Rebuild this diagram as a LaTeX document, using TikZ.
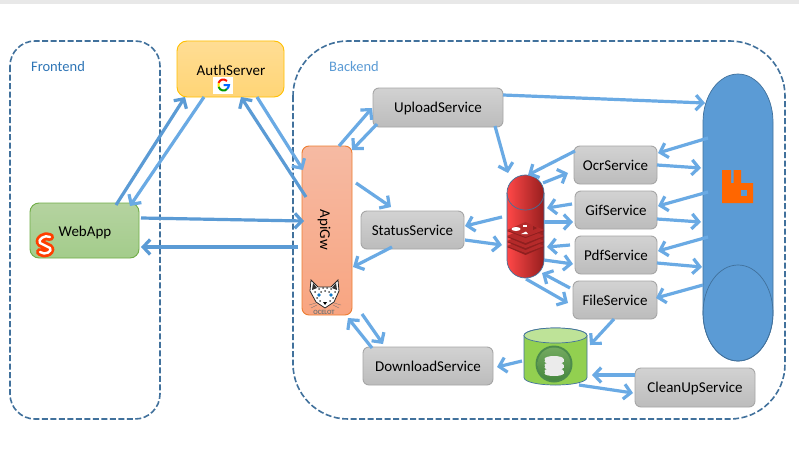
\documentclass[tikz,border=0pt]{standalone}
\usepackage{fontspec}
\setmainfont{Carlito}
\usetikzlibrary{arrows.meta}
\definecolor{flowblue}{HTML}{5B9BD5}
\definecolor{flowlight}{HTML}{6AAAE4}
\definecolor{dashblue}{HTML}{41719C}
\definecolor{labelblue}{HTML}{2E75B6}
\definecolor{rabbitorange}{HTML}{FF6600}
\definecolor{svelteorange}{HTML}{FF3E00}
\definecolor{redisdark}{HTML}{8F1F1F}
\definecolor{redismid}{HTML}{B52A2A}
\begin{document}
\begin{tikzpicture}[x=1pt, y=-1pt,
	zone/.style = {draw = dashblue, dash pattern = on 6pt off 2.5pt, line width = 1.6pt},
	zonetext/.style = {font = \fontsize{14.5}{14.5}\selectfont, inner sep = 0pt},
	boxtext/.style = {font = \fontsize{15}{15}\selectfont, inner sep = 0pt, text height = 13pt, text depth = 3pt},
	box/.style = {boxtext, rounded corners = 6pt},
	service/.style = {box, draw = black!35, line width = 0.9pt, top color = {rgb,255:red,210;green,210;blue,210}, bottom color = {rgb,255:red,188;green,188;blue,188}},
	flow/.style = {draw = flowblue, line width = 3.2pt, -{Straight Barb[length = 7pt, width = 15pt]}},
	flowl/.style = {flow, draw = flowlight},
	spot/.style = {inner sep = 0pt}]
	\useasboundingbox (0,0) rectangle (799,460);
	\fill [white] (0,0) rectangle (799,460);
	\fill [black!9] (0,0) rectangle (799,4);

	%zones
	\draw [zone, rounded corners = 25pt] (10,41) rectangle (160,419);
	\draw [zone, rounded corners = 55pt] (293,41) rectangle (785,419);
	\node [zonetext, text = labelblue] (frontendtext) at (58,67) {Frontend};
	\node [zonetext, text = flowblue] (backendtext) at (354,67) {Backend};

	%front nodes
	\node [box, draw = {rgb,255:red,255;green,192;blue,0}, line width = 0.9pt, top color = {rgb,255:red,255;green,221;blue,148}, bottom color = {rgb,255:red,255;green,213;blue,118}, minimum width = 107pt, minimum height = 56pt, rounded corners = 10pt] (authserver) at (230.5,69) {};
	\node [boxtext] (authtext) at (231,70) {AuthServer};
	\node [box, draw = {rgb,255:red,112;green,173;blue,71}, line width = 0.9pt, top color = {rgb,255:red,181;green,211;blue,160}, bottom color = {rgb,255:red,163;green,204;blue,139}, minimum width = 109pt, minimum height = 55pt, rounded corners = 9pt] (webapp) at (84.5,230.5) {};
	\node [boxtext] (webtext) at (85,231) {WebApp};
	\node [box, draw = {rgb,255:red,237;green,125;blue,49}, line width = 0.9pt, top color = {rgb,255:red,246;green,186;blue,163}, bottom color = {rgb,255:red,248;green,165;blue,129}, minimum width = 50pt, minimum height = 169pt, rounded corners = 7pt] (apigw) at (327,230.5) {};
	\node [boxtext, rotate = -90] (gwtext) at (325,230) {ApiGw};

	%services
	\node [service, minimum width = 130pt, minimum height = 39pt] (uploadservice) at (438,107.5) {UploadService};
	\node [service, minimum width = 103pt, minimum height = 38pt] (statusservice) at (412.5,230) {StatusService};
	\node [service, minimum width = 83pt, minimum height = 38pt] (ocrservice) at (615.5,165) {OcrService};
	\node [service, minimum width = 82pt, minimum height = 38pt] (gifservice) at (616,210) {GifService};
	\node [service, minimum width = 82pt, minimum height = 38pt] (pdfservice) at (616,255) {PdfService};
	\node [service, minimum width = 84pt, minimum height = 38pt] (fileservice) at (615,300) {FileService};
	\node [service, minimum width = 130pt, minimum height = 38pt] (downloadservice) at (428,366) {DownloadService};
	\node [service, minimum width = 120pt, minimum height = 39pt] (cleanupservice) at (695,387.5) {CleanUpService};

	%stores
	\node [spot, minimum width = 70pt, minimum height = 287pt] (rabbit) at (738,217.5) {};
	\node [spot, minimum width = 37pt, minimum height = 103pt] (redis) at (525.5,226.5) {};
	\node [spot, minimum width = 63pt, minimum height = 57pt] (database) at (555.5,356.5) {};

	%rabbit
	\draw [draw = dashblue, line width = 0.7pt, fill = flowblue] (703,122) .. controls (703,95.5) and (718.7,74) .. (738,74) .. controls (757.3,74) and (773,95.5) .. (773,122) -- (773,313) .. controls (773,339.5) and (757.3,361) .. (738,361) .. controls (718.7,361) and (703,339.5) .. (703,313) -- cycle;
	\draw [draw = dashblue, line width = 0.7pt] (738,313) ellipse (35 and 48);
	\fill [rabbitorange] (722,170) -- (731,170) -- (731,183) -- (733.5,183) -- (733.5,170) -- (741,170) -- (741,183) -- (753,183) -- (753,203) -- (722,203) -- cycle;
	\fill [flowblue] (741,190) rectangle (747,196);

	%redis
	\draw [draw = dashblue, line width = 0.7pt, left color = red!72!white, right color = {rgb,255:red,150;green,30;blue,30}] (507,193) .. controls (507,183) and (515.3,175) .. (525.5,175) .. controls (535.7,175) and (544,183) .. (544,193) -- (544,260) .. controls (544,270) and (535.7,278) .. (525.5,278) .. controls (515.3,278) and (507,270) .. (507,260) -- cycle;
	\draw [draw = dashblue, line width = 0.7pt] (507,193) .. controls (507,203) and (515.3,210) .. (525.5,210) .. controls (535.7,210) and (544,203) .. (544,193);
	\foreach \layer in {15,10,5} {
		\fill [redisdark] (507,{232+\layer}) -- (525.5,{224+\layer}) -- (544,{232+\layer}) -- (525.5,{240+\layer}) -- cycle;
		\fill [redismid] (507,{231+\layer}) -- (525.5,{223+\layer}) -- (544,{231+\layer}) -- (525.5,{238+\layer}) -- cycle;
	}
	\fill [redisdark] (507,231) -- (525.5,223) -- (544,231) -- (525.5,238) -- cycle;
	\fill [redismid] (507,230) -- (525.5,222) -- (544,230) -- (525.5,237) -- cycle;
	\fill [white] (516,229) ellipse (4.5 and 2);
	\fill [white] (523,224.5) rectangle (527,227);
	\fill [white] (521,234) -- (526,231.5) -- (528,234) -- cycle;
	\fill [redisdark] (533,226) -- (537,228) -- (533,230) -- cycle;

	%database
	\draw [draw = dashblue, line width = 0.7pt, fill = {rgb,255:red,146;green,208;blue,80}] (524,335.5) .. controls (524,331) and (538,328) .. (555.5,328) .. controls (573,328) and (587,331) .. (587,335.5) -- (587,377.5) .. controls (587,382) and (573,385) .. (555.5,385) .. controls (538,385) and (524,382) .. (524,377.5) -- cycle;
	\draw [draw = dashblue, line width = 0.7pt, fill = {rgb,255:red,190;green,227;blue,152}] (555.5,335.5) ellipse (31.5 and 7.5);
	\fill [green!35!black!70] (554,364) circle (18.5);
	\shade [top color = {rgb,255:red,115;green,170;blue,95}, bottom color = {rgb,255:red,70;green,135;blue,62}] (554,364) circle (16.5);
	\foreach \disk in {371,365,359} {
		\fill [black!8] (544.5,\disk) rectangle (563.5,{\disk+2.5});
		\fill [black!8] (554,\disk) ellipse (9.5 and 3);
		\fill [black!8] (554,{\disk+2.5}) ellipse (9.5 and 2.5);
	}

	%google
	\fill [white] (213,77) rectangle (233,94);
	\draw [red!85!orange, line width = 2pt] (227,81) .. controls (224,78.5) and (220,79) .. (218.5,83);
	\draw [yellow!85!orange, line width = 2pt] (218.5,83) .. controls (218,84.5) and (218,85.5) .. (218.6,87);
	\draw [green!60!black, line width = 2pt] (218.6,87) .. controls (220,91) and (225,91.5) .. (227,89);
	\draw [blue!60!cyan, line width = 2pt] (227,89) .. controls (228.5,87.5) and (229,86) .. (229,85) -- (223.5,85);

	%svelte
	\draw [svelteorange, line width = 8pt, line cap = round, line join = round] (50,237) .. controls (45,234) and (37,240) .. (40,243) -- (50,248) .. controls (53,251) and (45,256) .. (40,252);
	\draw [white, line width = 2.4pt, line cap = round, line join = round] (50,237) .. controls (45,234) and (37,240) .. (40,243) -- (50,248) .. controls (53,251) and (45,256) .. (40,252);

	%ocelot
	\draw [black!85, line width = 0.8pt, fill = white] (311,280) -- (318,287) -- (331,287) -- (338,280) -- (339,291) -- (334,302) -- (325,308) -- (316,302) -- (310,291) -- cycle;
	\fill [black!80] (313,283) -- (317,288) -- (312,290) -- cycle;
	\fill [black!80] (336,283) -- (332,288) -- (337,290) -- cycle;
	\foreach \px/\py in {319/289,323/288,327/288,331/289,315/292,335/292,325/291,321/292,329/292,317/298,333/298,320/301,330/301}
		\fill [black!70] (\px,\py) circle (1);
	\fill [cyan!60!blue] (319,295) circle (1.8);
	\fill [cyan!60!blue] (331,295) circle (1.8);
	\fill [black] (323,302) -- (327,302) -- (325,305) -- cycle;
	\draw [black!55, line width = 0.3pt] (316,303) -- (309,305) (317,305) -- (311,308) (334,303) -- (341,305) (333,305) -- (339,308);
	\node [spot, text = black!55, font = \fontsize{6.5}{6.5}\selectfont\bfseries] (ocelottext) at (324,312) {OCELOT};

	%arrows to and from the auth server
	\draw [flow] ([shift={(31.5,-25.5)}]webapp.center) -- ([shift={(-45.5,28)}]authserver.center);
	\draw [flowl] ([shift={(-26.5,28)}]authserver.center) -- ([shift={(45.5,-24.5)}]webapp.center);
	\draw [flowl] ([shift={(26.5,28)}]authserver.center) -- ([shift={(-24,-60.5)}]apigw.center);
	\draw [flow] ([shift={(-21,-33.5)}]apigw.center) -- ([shift={(10.5,28)}]authserver.center);
	\draw [flow] ([shift={(56.5,-12.5)}]webapp.center) -- ([shift={(-23,-9.5)}]apigw.center);
	\draw [flow] ([shift={(-29,16.5)}]apigw.center) -- ([shift={(56.5,16.5)}]webapp.center);

	%arrows around the gateway
	\draw [flowl] ([shift={(12,-84.5)}]apigw.center) -- ([shift={(-66,0.5)}]uploadservice.center);
	\draw [flowl] ([shift={(-61,16.5)}]uploadservice.center) -- ([shift={(25,-80.5)}]apigw.center);
	\draw [flowl] ([shift={(29,-47.5)}]apigw.center) -- ([shift={(-21.5,-23)}]statusservice.center);
	\draw [flowl] ([shift={(-20.5,17)}]statusservice.center) -- ([shift={(26,36.5)}]apigw.center);
	\draw [flowl] ([shift={(35,83.5)}]apigw.center) -- ([shift={(-45,-22)}]downloadservice.center);
	\draw [flowl] ([shift={(-56,-18)}]downloadservice.center) -- ([shift={(21,87.5)}]apigw.center);

	%upload
	\draw [flowl] ([shift={(65,-12.5)}]uploadservice.center) -- ([shift={(-33,-114.5)}]rabbit.center);
	\draw [flowl] ([shift={(57,18.5)}]uploadservice.center) -- ([shift={(-17.5,-53.5)}]redis.center);

	%redis
	\draw [flowl] ([shift={(-40.5,-14)}]ocrservice.center) -- ([shift={(2.5,-51.5)}]redis.center);
	\draw [flowl] ([shift={(17.5,-43.5)}]redis.center) -- ([shift={(-47.5,8)}]ocrservice.center);
	\draw [flowl] ([shift={(-44,-6)}]gifservice.center) -- ([shift={(21.5,-18.5)}]redis.center);
	\draw [flowl] ([shift={(18.5,-4.5)}]redis.center) -- ([shift={(-43,12)}]gifservice.center);
	\draw [flowl] ([shift={(-46,-10)}]pdfservice.center) -- ([shift={(21.5,20.5)}]redis.center);
	\draw [flowl] ([shift={(18.5,33.5)}]redis.center) -- ([shift={(-43,9)}]pdfservice.center);
	\draw [flowl] ([shift={(-45,-12)}]fileservice.center) -- ([shift={(16.5,46.5)}]redis.center);
	\draw [flowl] ([shift={(0.5,52.5)}]redis.center) -- ([shift={(-47,3)}]fileservice.center);
	\draw [flowl] ([shift={(-23.5,-9.5)}]redis.center) -- ([shift={(52.5,-4)}]statusservice.center);
	\draw [flowl] ([shift={(52.5,10)}]statusservice.center) -- ([shift={(-23.5,18.5)}]redis.center);

	%rabbit
	\draw [flowl] ([shift={(-30,-79.5)}]rabbit.center) -- ([shift={(42.5,-12)}]ocrservice.center);
	\draw [flowl] ([shift={(41.5,0)}]ocrservice.center) -- ([shift={(-37,-49.5)}]rabbit.center);
	\draw [flowl] ([shift={(-30,-25.5)}]rabbit.center) -- ([shift={(42,-4)}]gifservice.center);
	\draw [flowl] ([shift={(41,9)}]gifservice.center) -- ([shift={(-37,4.5)}]rabbit.center);
	\draw [flowl] ([shift={(-30,19.5)}]rabbit.center) -- ([shift={(42,-4)}]pdfservice.center);
	\draw [flowl] ([shift={(41,8)}]pdfservice.center) -- ([shift={(-36,49.5)}]rabbit.center);
	\draw [flowl] ([shift={(-35,67.5)}]rabbit.center) -- ([shift={(41,-2)}]fileservice.center);

	%database
	\draw [flowl] ([shift={(-1,19)}]fileservice.center) -- ([shift={(34.5,-11.5)}]database.center);
	\draw [flowl] ([shift={(-33.5,4.5)}]database.center) -- ([shift={(69,1)}]downloadservice.center);
	\draw [flowl] ([shift={(-60,-12.5)}]cleanupservice.center) -- ([shift={(36.5,18.5)}]database.center);
	\draw [flowl] ([shift={(23.5,28.5)}]database.center) -- ([shift={(-62,5.5)}]cleanupservice.center);
\end{tikzpicture}
\end{document}
